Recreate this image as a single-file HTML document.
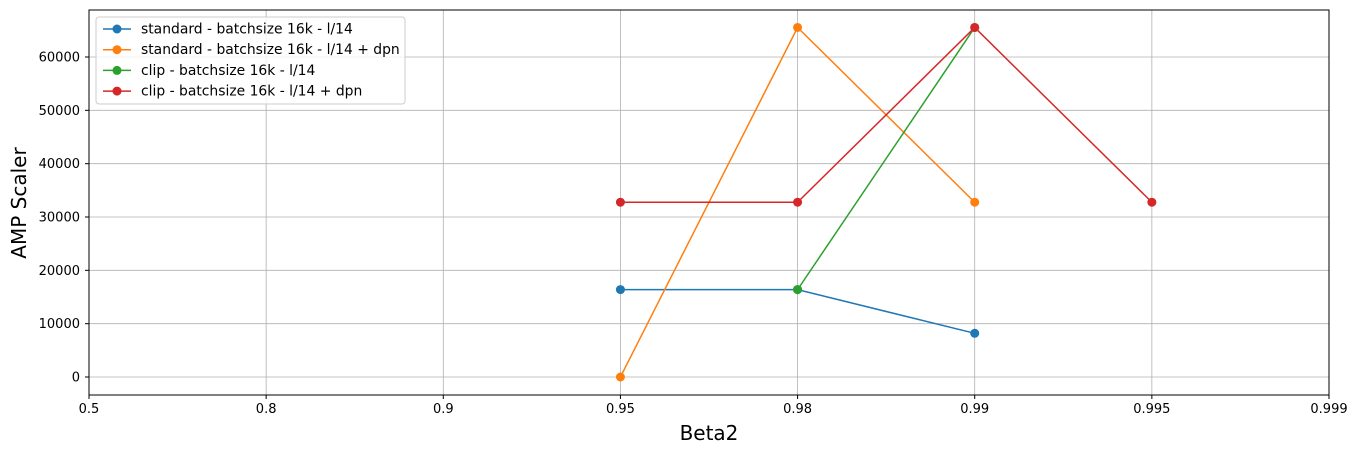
<!DOCTYPE html>
<html><head><meta charset="utf-8"><style>
body{margin:0;background:#fff;font-family:"DejaVu Sans",sans-serif}
svg{display:block;font-family:"DejaVu Sans",sans-serif}
</style></head><body>
<svg id="chart" width="1359" height="454"></svg>
<script>
const categories=["0.5","0.8","0.9","0.95","0.98","0.99","0.995","0.999"];
const yTicks=[0,10000,20000,30000,40000,50000,60000];
const seriesNames=["standard - batchsize 16k - l/14","standard - batchsize 16k - l/14 + dpn","clip - batchsize 16k - l/14","clip - batchsize 16k - l/14 + dpn"];
const seriesColors=["#1f77b4","#ff7f0e","#2ca02c","#d62728"];
const s1x=["0.95","0.98","0.99"], s1y=[16384,16384,8192];
const s2x=["0.95","0.98","0.99"], s2y=[0,65536,32768];
const s3x=["0.98","0.99"], s3y=[16384,65536];
const s4x=["0.95","0.98","0.99","0.995"], s4y=[32768,32768,65536,32768];
const NS="http://www.w3.org/2000/svg";
const svg=document.getElementById('chart');
const L=89,R=1329,T=10,B=395;
function xS(c){return L+categories.indexOf(c)*(R-L)/(categories.length-1);}
function yS(v){return 377-v*320/60000;}
function mk(t,a,p){const e=document.createElementNS(NS,t);for(const k in a)e.setAttribute(k,a[k]);(p||svg).appendChild(e);return e;}
const grid=mk('g',{});


categories.forEach(c=>{const x=xS(c);mk('line',{x1:x,x2:x,y1:T,y2:B,stroke:'#b0b0b0','stroke-width':0.8},grid);
const t=mk('text',{x:x,y:413,'text-anchor':'middle','font-size':13,fill:'#000'});t.textContent=c;


mk('line',{x1:x,x2:x,y1:B,y2:B+4,stroke:'#000'});});
yTicks.forEach(v=>{const y=yS(v);mk('line',{x1:L,x2:R,y1:y,y2:y,stroke:'#b0b0b0','stroke-width':0.8},grid);
const t=mk('text',{x:80,y:y+4.5,'text-anchor':'end','font-size':13,fill:'#000'});t.textContent=v;


mk('line',{x1:L-4,x2:L,y1:y,y2:y,stroke:'#000'});});
const frame=mk('rect',{x:L,y:T,width:R-L,height:B-T,fill:'none',stroke:'#000','stroke-width':1});


const xs=[s1x,s2x,s3x,s4x],ys=[s1y,s2y,s3y,s4y];
xs.forEach((sx,i)=>{const g=mk('g',{});


const pts=sx.map((c,j)=>xS(c)+','+yS(ys[i][j])).join(' ');
mk('polyline',{points:pts,fill:'none',stroke:seriesColors[i],'stroke-width':1.5},g);
sx.forEach((c,j)=>{const p=mk('circle',{cx:xS(c),cy:yS(ys[i][j]),r:4.5,fill:seriesColors[i]},g);

});});
const xt=mk('text',{x:709,y:440,'text-anchor':'middle','font-size':20});xt.textContent='Beta2';


const yt=mk('text',{x:26,y:203,'text-anchor':'middle','font-size':20,transform:'rotate(-90 26 203)'});yt.textContent='AMP Scaler';


const lg=mk('g',{});


mk('rect',{x:96,y:17,width:309,height:87,rx:3,fill:'#fff','fill-opacity':0.8,stroke:'#ccc'},lg);
seriesNames.forEach((n,i)=>{const y=29+i*20.7;const e=mk('g',{},lg);


mk('line',{x1:103,x2:131,y1:y,y2:y,stroke:seriesColors[i],'stroke-width':1.5},e);
mk('circle',{cx:117,cy:y,r:4.5,fill:seriesColors[i]},e);
const t=mk('text',{x:141,y:y+4.5,'font-size':13.9},e);t.textContent=n;});
</script>
</body></html>
